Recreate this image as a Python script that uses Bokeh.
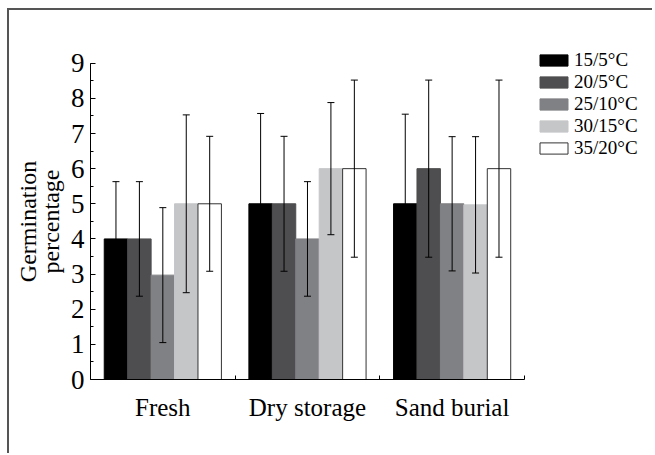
from bokeh.plotting import figure
from bokeh.models import (ColumnDataSource, Whisker, TeeHead, FixedTicker,
                          SingleIntervalTicker, Range1d)
from bokeh.embed import file_html
from bokeh.resources import INLINE

# ---- data ----
treatments = ["Fresh", "Dry storage", "Sand burial"]
regimes = ["15/5°C", "20/5°C", "25/10°C", "30/15°C", "35/20°C"]

germ_15_5 = [4.0, 5.0, 5.0]
germ_20_5 = [4.0, 5.0, 6.0]
germ_25_10 = [2.97, 4.0, 5.0]
germ_30_15 = [5.0, 6.0, 4.97]
germ_35_20 = [5.0, 6.0, 6.0]

err_15_5 = [1.63, 2.57, 2.55]
err_20_5 = [1.63, 1.92, 2.52]
err_25_10 = [1.92, 1.63, 1.91]
err_30_15 = [2.53, 1.88, 1.94]
err_35_20 = [1.92, 2.52, 2.52]

yticks_max = 9

series = [germ_15_5, germ_20_5, germ_25_10, germ_30_15, germ_35_20]
errors = [err_15_5, err_20_5, err_25_10, err_30_15, err_35_20]
colors = ["#000000", "#4e4e50", "#808184", "#c5c6c8", "#ffffff"]
line_colors = ["#000000", "#4e4e50", "#808184", "#c5c6c8", "#333333"]

FONT = "Liberation Serif"
BW = 0.162

p = figure(width=645, height=445, output_backend="svg", toolbar_location=None,
           x_range=Range1d(0, 3.899), y_range=Range1d(-1.508, 10.5),
           min_border_left=81, min_border_right=0, min_border_top=0,
           min_border_bottom=23)
p.styles = {"border-top": "2px solid #555555", "border-left": "2px solid #555555",
            "margin-top": "8px", "margin-left": "7px"}
p.outline_line_color = None
p.grid.visible = False
p.background_fill_color = "white"

for j, (vals, errs) in enumerate(zip(series, errors)):
    xs = [i + 0.5 + (j - 2) * BW for i in range(len(treatments))]
    src = ColumnDataSource(dict(
        x=xs, top=vals,
        lower=[v - e for v, e in zip(vals, errs)],
        upper=[v + e for v, e in zip(vals, errs)]))
    p.vbar(x="x", top="top", bottom=0, width=BW, source=src, fill_color=colors[j],
           line_color=line_colors[j], line_width=1, legend_label=regimes[j])
    w = Whisker(base="x", lower="lower", upper="upper", source=src,
                line_color="black", line_width=1, level="annotation",
                upper_head=TeeHead(size=7, line_color="black", line_width=1),
                lower_head=TeeHead(size=7, line_color="black", line_width=1))
    p.add_layout(w)

# x axis
xa = p.xaxis[0]
xa.fixed_location = 0
xa.bounds = (0, len(treatments))
xa.ticker = FixedTicker(ticks=[i + 0.5 for i in range(len(treatments))],
                        minor_ticks=list(range(len(treatments) + 1)))
xa.major_label_overrides = {i + 0.5: t for i, t in enumerate(treatments)}
xa.major_tick_line_color = None
xa.minor_tick_in = 4
xa.minor_tick_out = 0
xa.minor_tick_line_color = "black"
xa.axis_line_color = "black"
xa.major_label_text_font = FONT
xa.major_label_text_font_size = "25px"
xa.major_label_text_color = "black"
xa.major_label_standoff = 8

# y axis
ya = p.yaxis[0]
ya.bounds = (0, yticks_max)
ya.ticker = SingleIntervalTicker(interval=1, num_minor_ticks=2)
ya.major_tick_in = 5
ya.major_tick_out = 0
ya.minor_tick_in = 3
ya.minor_tick_out = 0
ya.major_tick_line_color = "black"
ya.minor_tick_line_color = "black"
ya.axis_line_color = "black"
ya.major_label_text_font = FONT
ya.major_label_text_font_size = "27px"
ya.major_label_text_color = "black"
ya.major_label_standoff = 6
ya.axis_label = "Germination\npercentage"
ya.axis_label_text_font = FONT
ya.axis_label_text_font_size = "24px"
ya.axis_label_text_font_style = "normal"
ya.axis_label_text_color = "black"
ya.axis_label_text_line_height = 0.88
ya.axis_label_standoff = 4

# legend
lg = p.legend[0]
lg.location = (446, 273)
lg.padding = 0
lg.margin = 0
lg.spacing = 0
lg.border_line_color = None
lg.background_fill_alpha = 0
lg.glyph_width = 35
lg.glyph_height = 14
lg.label_height = 21
lg.label_standoff = 3
lg.label_text_font = FONT
lg.label_text_font_size = "19px"
lg.label_text_color = "black"

open("out.html", "w").write(file_html(p, INLINE))
